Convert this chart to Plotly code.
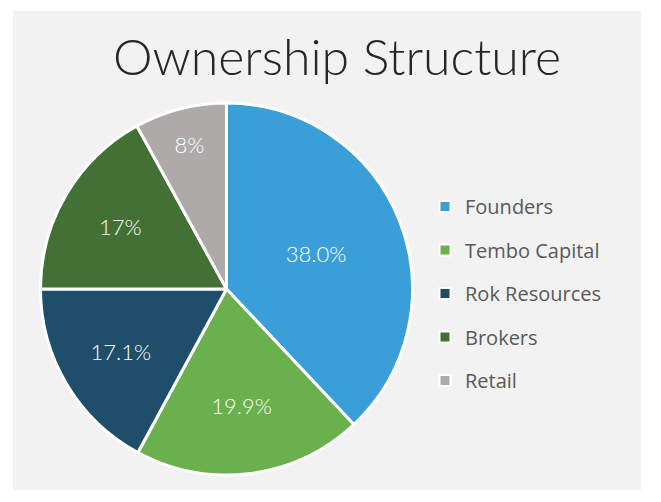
import plotly.graph_objects as go

labels = ["Founders", "Tembo Capital", "Rok Resources", "Brokers", "Retail"]
values = [38.0, 19.9, 17.1, 17.0, 8.0]
text_labels = ["38.0%", "19.9%", "17.1%", "17%", "8%"]
colors = ["#3a9fd9", "#6ab04c", "#1f4e6b", "#437135", "#aeaaaa"]

W, H = 661, 502

fig = go.Figure()
fig.add_trace(go.Pie(
    labels=labels, values=values, text=text_labels,
    textinfo="text", texttemplate="%{text}",
    sort=False, direction="clockwise", rotation=0,
    marker=dict(colors=colors, line=dict(color="white", width=3)),
    textposition="inside", insidetextorientation="horizontal",
    textfont=dict(family="Lato", size=22, color="white", weight=300),
    domain=dict(x=[40.5 / W, 412.5 / W], y=[(H - 475) / H, (H - 103) / H]),
    showlegend=False, hoverinfo="label+percent",
))

for i, (lab, col) in enumerate(zip(labels, colors)):
    fig.add_trace(go.Scatter(
        x=[None], y=[None], mode="markers", name=lab,
        marker=dict(symbol="square", size=11, color=col, line=dict(color="white", width=2)),
        legendgroup=f"g{i}", showlegend=True,
    ))

fig.update_layout(
    width=W, height=H,
    margin=dict(l=0, r=0, t=0, b=0),
    paper_bgcolor="white", plot_bgcolor="rgba(0,0,0,0)",
    xaxis=dict(visible=False), yaxis=dict(visible=False),
    title=dict(text="Ownership Structure", x=337 / W, y=1 - 57 / H,
               xanchor="center", yanchor="middle",
               font=dict(family="Lato", size=50, color="#262626", weight=300)),
    legend=dict(x=(425) / W, y=1 - 187 / H, xanchor="left", yanchor="top",
                font=dict(family="Open Sans", size=20, color="#595959"),
                tracegroupgap=14.5, bgcolor="rgba(0,0,0,0)"),
    shapes=[dict(type="rect", xref="paper", yref="paper",
                 x0=13 / W, x1=641 / W, y0=1 - 490 / H, y1=1 - 11 / H,
                 fillcolor="#f2f2f2", line=dict(width=0), layer="below")],
)

fig.write_html("out.html")
